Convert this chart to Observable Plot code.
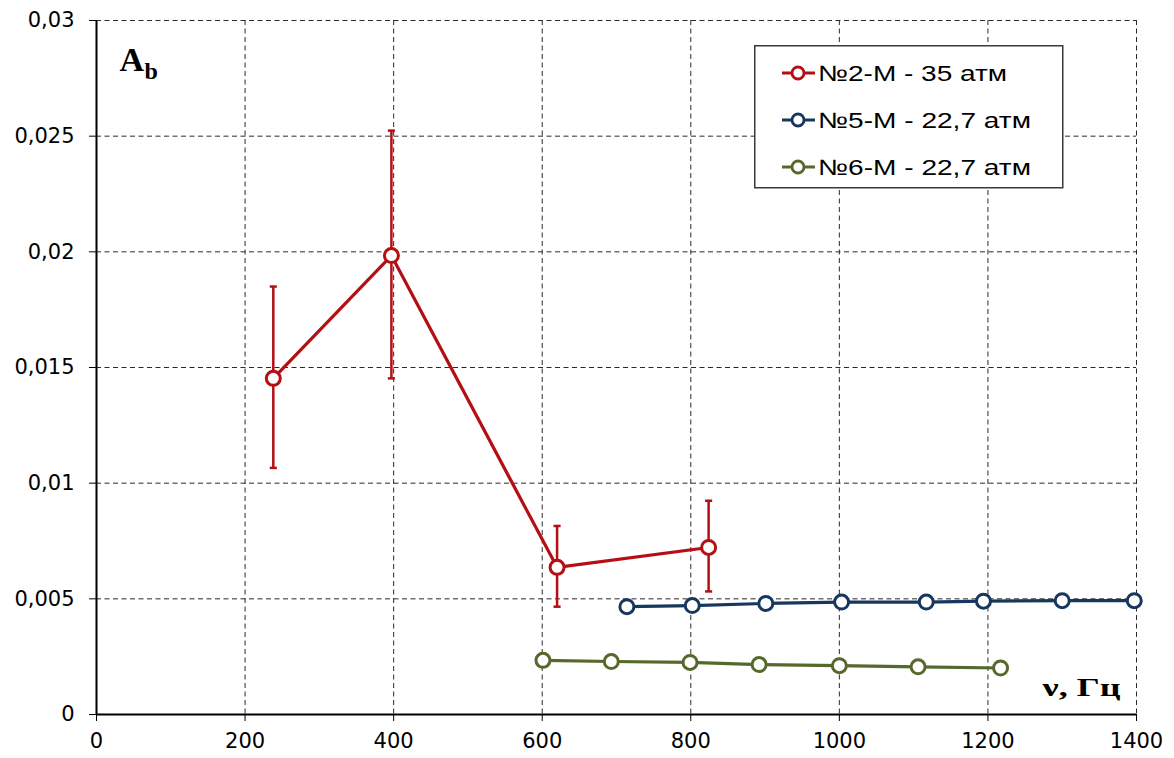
<!DOCTYPE html>
<html>
<head>
<meta charset="utf-8">
<script src="https://cdn.jsdelivr.net/npm/d3@7"></script>
<script src="https://cdn.jsdelivr.net/npm/@observablehq/plot@0.6"></script>
<style>
  html, body { margin: 0; padding: 0; background: #fff; }
  #wrap { position: relative; width: 1174px; height: 758px; overflow: hidden; }
  #legend { position: absolute; left: 754px; top: 45px; }
</style>
</head>
<body>
<div id="wrap">
  <div id="chart"></div>
  <svg id="legend" width="310" height="144"></svg>
</div>
<script>
// ---- data ----
const xTicks = [0, 200, 400, 600, 800, 1000, 1200, 1400];
const yTicks = [0, 0.005, 0.01, 0.015, 0.02, 0.025, 0.03];
const yTickLabels = ["0", "0,005", "0,01", "0,015", "0,02", "0,025", "0,03"];

const seriesNames = ["№2-М - 35 атм", "№5-М - 22,7 атм", "№6-М - 22,7 атм"];
const seriesColors = ["#B40F14", "#17375E", "#56692C"];

const freq2 = [238, 397, 620, 824];
const ab2 = [0.01453, 0.01984, 0.00636, 0.00722];
const err2Lo = [0.01066, 0.01453, 0.00466, 0.00532];
const err2Hi = [0.0185, 0.02524, 0.00815, 0.00924];

const freq5 = [714, 802, 901, 1003, 1117, 1194, 1300, 1397];
const ab5 = [0.00466, 0.00471, 0.0048, 0.00486, 0.00486, 0.0049, 0.00492, 0.00492];

const freq6 = [601, 693, 799, 892, 1000, 1106, 1217];
const ab6 = [0.00234, 0.00229, 0.00225, 0.00216, 0.00211, 0.00206, 0.00201];

// ---- tables ----
const s2 = freq2.map((x, i) => ({x, y: ab2[i], lo: err2Lo[i], hi: err2Hi[i]}));
const s5 = freq5.map((x, i) => ({x, y: ab5[i]}));
const s6 = freq6.map((x, i) => ({x, y: ab6[i]}));

const capSymbol = {
  draw(ctx, size) {
    const w = Math.sqrt(size) / 2;
    ctx.moveTo(-w, 0);
    ctx.lineTo(w, 0);
  }
};

const grid = {stroke: "#2a2a2a", strokeWidth: 1, strokeDasharray: "5,3.5"};

const chart = Plot.plot({
  width: 1174,
  height: 758,
  marginLeft: 96,
  marginRight: 38,
  marginTop: 20,
  marginBottom: 44,
  style: {fontFamily: "DejaVu Sans, sans-serif", fontSize: "21px", color: "#000", background: "#fff"},
  x: {domain: [0, 1400], ticks: xTicks, tickSize: 7, tickPadding: 12, label: null, tickFormat: d => String(d)},
  y: {domain: [0, 0.03], ticks: yTicks, tickSize: 7, tickPadding: 15, label: null,
      tickFormat: d => yTickLabels[yTicks.findIndex(t => Math.abs(t - d) < 1e-9)]},
  marks: [
    Plot.ruleX(xTicks.filter(d => d > 0), grid),
    Plot.ruleY(yTicks.filter(d => d > 0), grid),
    Plot.ruleX([0], {stroke: "#000", strokeWidth: 2}),
    Plot.ruleY([0], {stroke: "#000", strokeWidth: 2}),
    // error bars
    Plot.ruleX(s2, {x: "x", y1: "lo", y2: "hi", stroke: seriesColors[0], strokeWidth: 2.5}),
    Plot.dot(s2, {x: "x", y: "lo", symbol: capSymbol, r: 4, stroke: seriesColors[0], strokeWidth: 2.5, fill: "none"}),
    Plot.dot(s2, {x: "x", y: "hi", symbol: capSymbol, r: 4, stroke: seriesColors[0], strokeWidth: 2.5, fill: "none"}),
    // lines
    Plot.line(s2, {x: "x", y: "y", stroke: seriesColors[0], strokeWidth: 3.2}),
    Plot.line(s5, {x: "x", y: "y", stroke: seriesColors[1], strokeWidth: 3.2}),
    Plot.line(s6, {x: "x", y: "y", stroke: seriesColors[2], strokeWidth: 3.2}),
    Plot.dot(s2, {x: "x", y: "y", r: 7, fill: "#fff", stroke: seriesColors[0], strokeWidth: 3}),
    Plot.dot(s5, {x: "x", y: "y", r: 7, fill: "#fff", stroke: seriesColors[1], strokeWidth: 3}),
    Plot.dot(s6, {x: "x", y: "y", r: 7, fill: "#fff", stroke: seriesColors[2], strokeWidth: 3}),
    // axis titles
    Plot.text(["A"], {frameAnchor: "top-left", textAnchor: "start", lineAnchor: "bottom", dx: 23, dy: 50,
      fontFamily: "Liberation Serif, serif", fontWeight: "bold", fontSize: 34, fill: "#000"}),
    Plot.text(["b"], {frameAnchor: "top-left", textAnchor: "start", lineAnchor: "bottom", dx: 48, dy: 58,
      fontFamily: "Liberation Serif, serif", fontWeight: "bold", fontSize: 24, fill: "#000"}),
    Plot.text(["ν, Гц"], {frameAnchor: "bottom-right", textAnchor: "end", lineAnchor: "bottom", dx: -16, dy: -19,
      fontFamily: "Liberation Serif, serif", fontWeight: "bold", fontSize: 25, fill: "#000"})
  ]
});
document.getElementById("chart").appendChild(chart);

// stretch the x-axis title horizontally like the reference
d3.select(chart).selectAll("text").filter(function() { return this.textContent === "ν, Гц"; })
  .attr("textLength", 78).attr("lengthAdjust", "spacingAndGlyphs");

// legend
const legendLengths = [189, 213, 213];
const lg = d3.select("#legend");
lg.append("rect").attr("x", 0.75).attr("y", 0.75).attr("width", 308).attr("height", 142)
  .attr("fill", "#fff").attr("stroke", "#3a3a3a").attr("stroke-width", 1.5);
seriesNames.forEach((name, i) => {
  const cy = 28 + i * 47;
  const g = lg.append("g");
  g.append("line").attr("x1", 28).attr("x2", 61).attr("y1", cy).attr("y2", cy)
    .attr("stroke", seriesColors[i]).attr("stroke-width", 3);
  g.append("circle").attr("cx", 44).attr("cy", cy).attr("r", 6)
    .attr("fill", "#fff").attr("stroke", seriesColors[i]).attr("stroke-width", 2.8);
  g.append("text").attr("x", 64).attr("y", cy + 8)
    .attr("font-family", "Liberation Sans, Arial, sans-serif").attr("font-size", 22)
    .attr("fill", "#000")
    .attr("textLength", legendLengths[i]).attr("lengthAdjust", "spacingAndGlyphs")
    .text(name);
});
</script>
</body>
</html>
